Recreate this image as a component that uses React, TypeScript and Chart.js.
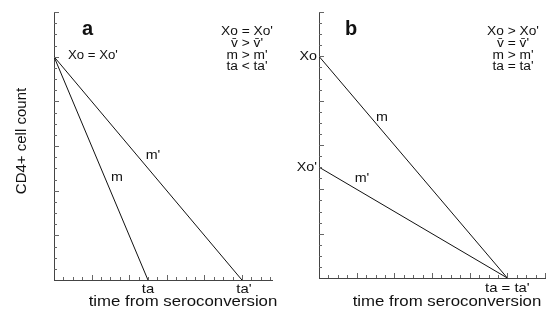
import React, { useEffect, useRef } from "react";
import { Chart, registerables } from "chart.js";

Chart.register(...registerables);

// ---- data ----
const Y_MAX = 24;
const X_MAX_A = 23.2;
const X_MAX_B = 24;
const START_A = [20, 20]; // Xo, Xo'
const END_A = [10, 20]; // ta, ta'
const START_B = [20, 10]; // Xo, Xo'
const END_B = [20, 20]; // ta, ta'
const LINE_LABELS = ["m", "m'"];
const START_LABELS_A = ["Xo = Xo'"];
const START_LABELS_B = ["Xo", "Xo'"];
const END_LABELS_A = ["ta", "ta'"];
const END_LABELS_B = ["ta = ta'"];
const RELATIONS_A = ["Xo = Xo'", "v\u0304 > v\u0304'", "m > m'", "ta < ta'"];
const RELATIONS_B = ["Xo > Xo'", "v\u0304 = v\u0304'", "m > m'", "ta = ta'"];
const PANEL_LETTERS = ["a", "b"];
const X_TITLE = "time from seroconversion";
const Y_TITLE = "CD4+ cell count";

const FONT = '"Liberation Sans", Arial, sans-serif';
const INK = "#111";
const SX = 1.1;
const OFF_B = 274;

function txt(
  ctx: CanvasRenderingContext2D,
  s: string,
  x: number,
  y: number,
  font: string,
  align: CanvasTextAlign = "center",
  sx: number = SX
) {
  ctx.save();
  ctx.translate(x, y);
  ctx.scale(sx, 1);
  ctx.font = font;
  ctx.fillStyle = INK;
  ctx.textAlign = align;
  ctx.textBaseline = "middle";
  ctx.fillText(s, 0, 0);
  ctx.restore();
}

function makeConfig(panel: "a" | "b"): any {
  const isA = panel === "a";
  const starts = isA ? START_A : START_B;
  const ends = isA ? END_A : END_B;
  const xMax = isA ? X_MAX_A : X_MAX_B;

  const datasets = starts.map((s, i) => ({
    label: LINE_LABELS[i],
    data: [
      { x: 0, y: s },
      { x: ends[i], y: 0 },
    ],
    borderColor: INK,
    borderWidth: 1,
    pointRadius: 0,
    fill: false,
  }));

  const plugin = {
    id: "annot" + panel,
    afterDatasetsDraw(chart: any) {
      const { ctx, chartArea: ca, scales } = chart;
      const x = scales.x;
      const y = scales.y;
      ctx.save();
      // minor ticks, pointing inward
      ctx.strokeStyle = "#666";
      ctx.lineWidth = 1;
      for (let v = 1; v <= Math.floor(xMax); v++) {
        const px = Math.round(x.getPixelForValue(v)) + 0.5;
        const len = v % 4 === 0 ? 5 : 3;
        ctx.beginPath();
        ctx.moveTo(px, ca.bottom);
        ctx.lineTo(px, ca.bottom - len);
        ctx.stroke();
      }
      for (let v = 1; v <= Y_MAX; v++) {
        const py = Math.round(y.getPixelForValue(v)) + 0.5;
        const len = v % 4 === 0 ? 5 : 3;
        ctx.beginPath();
        ctx.moveTo(ca.left, py);
        ctx.lineTo(ca.left + len, py);
        ctx.stroke();
      }

      const x0 = x.getPixelForValue(0);
      const bold = 'bold 20px "Liberation Sans", Arial, sans-serif';
      txt(ctx, isA ? PANEL_LETTERS[0] : PANEL_LETTERS[1], ca.left + (isA ? 28 : 26), 29, bold, "left", 1);

      const rels = isA ? RELATIONS_A : RELATIONS_B;
      const bx = isA ? 247 : 513 - OFF_B;
      rels.forEach((r, i) => txt(ctx, r, bx, 32 + i * 11.6, `12.5px ${FONT}`));

      if (isA) {
        txt(ctx, START_LABELS_A[0], x0 + 14, y.getPixelForValue(starts[0]) - 1, `12px ${FONT}`, "left");
        txt(ctx, LINE_LABELS[0], 117, 177, `13px ${FONT}`);
        txt(ctx, LINE_LABELS[1], 153, 155, `13px ${FONT}`);
        ends.forEach((e, i) =>
          txt(ctx, END_LABELS_A[i], x.getPixelForValue(e) + (i ? 2 : 0), 289, `13.5px ${FONT}`)
        );
        txt(ctx, X_TITLE, 183, 302, `15px ${FONT}`, "center", 1.12);
        ctx.save();
        ctx.translate(22, 141);
        ctx.rotate(-Math.PI / 2);
        txt(ctx, Y_TITLE, 0, 0, `15px ${FONT}`, "center", 1);
        ctx.restore();
      } else {
        starts.forEach((s, i) =>
          txt(ctx, START_LABELS_B[i], x0 - 2, y.getPixelForValue(s), `13px ${FONT}`, "right")
        );
        txt(ctx, LINE_LABELS[0], 382 - OFF_B, 117, `13px ${FONT}`);
        txt(ctx, LINE_LABELS[1], 362 - OFF_B, 178, `13px ${FONT}`);
        txt(ctx, END_LABELS_B[0], x.getPixelForValue(ends[0]), 288, `13.5px ${FONT}`);
        txt(ctx, X_TITLE, 447 - OFF_B, 302, `15px ${FONT}`, "center", 1.12);
      }
      ctx.restore();
    },
  };

  return {
    type: "line",
    data: { datasets },
    options: {
      animation: false,
      responsive: false,
      events: [],
      layout: isA
        ? { padding: { left: 54, top: 12, right: 12, bottom: 36 } }
        : { padding: { left: 45, top: 12, right: 3, bottom: 38 } },
      plugins: { legend: { display: false }, tooltip: { enabled: false } },
      scales: {
        x: {
          type: "linear",
          min: 0,
          max: xMax,
          grid: { display: false },
          ticks: { display: false },
          border: { display: true, color: "#444", width: 1 },
          afterFit: (s: any) => {
            s.height = 0;
          },
        },
        y: {
          type: "linear",
          min: 0,
          max: Y_MAX,
          grid: { display: false },
          ticks: { display: false },
          border: { display: true, color: "#444", width: 1 },
          afterFit: (s: any) => {
            s.width = 0;
          },
        },
      },
    },
    plugins: [plugin],
  };
}

export default function App() {
  const refA = useRef<HTMLCanvasElement>(null);
  const refB = useRef<HTMLCanvasElement>(null);

  useEffect(() => {
    document.body.style.margin = "0";
    const a = new Chart(refA.current as HTMLCanvasElement, makeConfig("a"));
    const b = new Chart(refB.current as HTMLCanvasElement, makeConfig("b"));
    return () => {
      a.destroy();
      b.destroy();
    };
  }, []);

  return (
    <div style={{ position: "relative", width: 548, height: 316, background: "#fff" }}>
      <canvas
        ref={refA}
        width={284}
        height={316}
        style={{ position: "absolute", left: 0, top: 0, display: "block", width: 284, height: 316 }}
      />
      <canvas
        ref={refB}
        width={274}
        height={316}
        style={{ position: "absolute", left: OFF_B, top: 0, display: "block", width: 274, height: 316 }}
      />
    </div>
  );
}
